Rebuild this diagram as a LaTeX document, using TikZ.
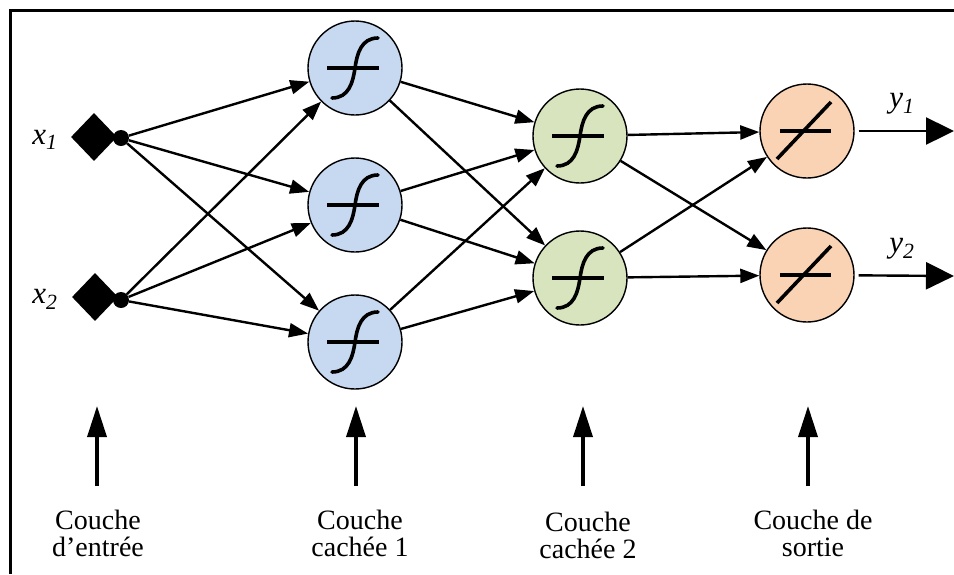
\documentclass[tikz,border=0pt]{standalone}
\usepackage{fontspec}
\setmainfont{Liberation Serif}
\usetikzlibrary{arrows.meta,shapes.geometric}
\definecolor{hblue}{HTML}{C6D9F1}
\definecolor{hgreen}{HTML}{D7E4BD}
\definecolor{horange}{HTML}{FAD3B4}
\tikzset{
  neuron/.style={circle,draw=black,line width=1.4pt,minimum size=94pt,inner sep=0pt},
  inpt/.style={diamond,fill=black,minimum width=46pt,minimum height=48pt,inner sep=0pt},
  dotnode/.style={circle,fill=black,minimum size=16pt,inner sep=0pt},
  conn/.style={line width=2.4pt,-{Triangle[length=19pt,width=14pt]}},
  outarr/.style={line width=2.4pt,-{Triangle[length=28pt,width=27pt]},shorten <=4pt},
  layarr/.style={line width=3.5pt,-{Triangle[length=31pt,width=19pt]}},
  laytext/.style={align=center,font=\fontsize{28}{27}\selectfont,inner sep=0pt},
  varlab/.style={font=\fontsize{31}{31}\selectfont\itshape,inner sep=0pt},
  symb/.style={line width=3.6pt},
}
\newcommand{\sigm}[1]{%
  \draw[symb] ([xshift=-28pt]#1.center) -- ([xshift=24pt]#1.center);
  \draw[symb,line cap=round] ([xshift=-23pt,yshift=-30pt]#1.center) .. controls ([xshift=-6pt,yshift=-30pt]#1.center) and ([xshift=-2pt,yshift=-14pt]#1.center) .. (#1.center) .. controls ([xshift=2pt,yshift=14pt]#1.center) and ([xshift=6pt,yshift=30pt]#1.center) .. ([xshift=23pt,yshift=30pt]#1.center);
}
\newcommand{\linf}[1]{%
  \draw[symb] ([xshift=-27pt]#1.center) -- ([xshift=24pt]#1.center);
  \draw[symb] ([xshift=-30pt,yshift=-28pt]#1.center) -- ([xshift=24pt,yshift=29pt]#1.center);
}
\begin{document}
\begin{tikzpicture}[x=1pt,y=-1pt]
\useasboundingbox (0,0) rectangle (954,574);
% frame
\draw[line width=3pt] (954,10) -- (10,10) -- (10,574);
% inputs
\node[inpt] (x1) at (94,137) {};
\node[inpt] (x2) at (95,297) {};
\node[dotnode] (d1) at (121,138) {};
\node[dotnode] (d2) at (121,300) {};
\node[varlab] (lx1) at (45,140) {x\textsubscript{1}};
\node[varlab] (lx2) at (45,299) {x\textsubscript{2}};
% hidden 1
\node[neuron,fill=hblue] (a1) at (355,68) {};
\node[neuron,fill=hblue] (a2) at (355,205) {};
\node[neuron,fill=hblue] (a3) at (355,342) {};
% hidden 2
\node[neuron,fill=hgreen] (b1) at (580,136) {};
\node[neuron,fill=hgreen] (b2) at (580,278) {};
% output
\node[neuron,fill=horange] (c1) at (807,131) {};
\node[neuron,fill=horange] (c2) at (807,275) {};
\sigm{a1}\sigm{a2}\sigm{a3}\sigm{b1}\sigm{b2}
\linf{c1}\linf{c2}
% connections
\foreach \s in {d1,d2}{\foreach \t in {a1,a2,a3}{\draw[conn] (\s) -- (\t);}}
\foreach \s in {a1,a2,a3}{\foreach \t in {b1,b2}{\draw[conn] (\s) -- (\t);}}
\foreach \s in {b1,b2}{\foreach \t in {c1,c2}{\draw[conn] (\s) -- (\t);}}
% outputs
\coordinate (o1) at (954,131);
\coordinate (o2) at (954,276);
\draw[outarr] (c1) -- (o1);
\draw[outarr] (c2) -- (o2);
\node[varlab] (ly1) at (902,104) {y\textsubscript{1}};
\node[varlab] (ly2) at (902,249) {y\textsubscript{2}};
% layer arrows
\foreach \n/\x in {p1/97,p2/356,p3/583,p4/808}{
  \coordinate (\n s) at (\x,486);
  \coordinate (\n e) at (\x,406);
  \draw[layarr] (\n s) -- (\n e);
}
\node[laytext] (t1) at (98,533) {Couche\\d’entrée};
\node[laytext] (t2) at (360,533) {Couche\\cachée 1};
\node[laytext] (t3) at (588,535) {Couche\\cachée 2};
\node[laytext] (t4) at (813,533) {Couche de\\sortie};
\end{tikzpicture}
\end{document}
